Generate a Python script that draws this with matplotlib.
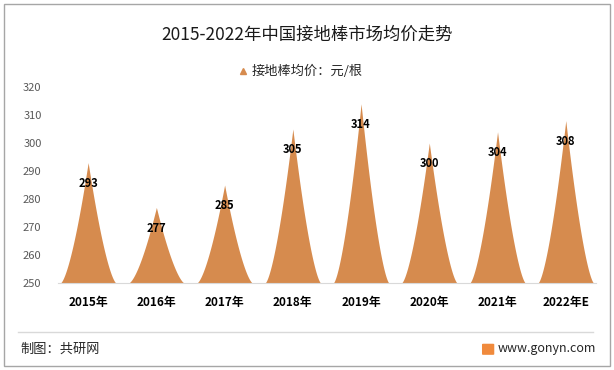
import numpy as np
import matplotlib.pyplot as plt
from matplotlib.patches import Rectangle, FancyBboxPatch
from matplotlib.lines import Line2D

plt.rcParams['font.family'] = ['Noto Sans CJK SC', 'DejaVu Sans']

years = ['2015年', '2016年', '2017年', '2018年', '2019年', '2020年', '2021年', '2022年E']
prices = [293, 277, 285, 305, 314, 300, 304, 308]
yticks = [250, 260, 270, 280, 290, 300, 310, 320]

color = '#D68B4E'
base = 250

fig = plt.figure(figsize=(6.14, 3.70), dpi=100)
ax = fig.add_axes([0.088, 0.235, 0.889, 0.53])

# pointed (concave) bars
u = np.linspace(-1, 1, 201)
half = 0.41
for i, v in enumerate(prices):
    xs = i + u * half
    ys = base + (v - base) * (1 - np.abs(u)) ** 1.5
    ax.fill_between(xs, base, ys, color=color, lw=0)
    ax.annotate(str(v), (i, v), xytext=(0, -15), textcoords='offset points',
                ha='center', va='center', fontsize=8, fontweight='bold', color='black')

ax.set_xlim(-0.5, len(years) - 0.5)
ax.set_ylim(250, 320)
ax.set_yticks(yticks)
ax.set_xticks(range(len(years)))
ax.set_xticklabels(years, fontsize=8.5, fontweight='bold')
ax.tick_params(axis='y', length=0, labelsize=8, labelcolor='#595959', pad=9)
ax.tick_params(axis='x', length=0, pad=9)
for s in ['top', 'right', 'left']:
    ax.spines[s].set_visible(False)
ax.spines['bottom'].set_color('#D9D9D9')
ax.spines['bottom'].set_bounds(-0.44, 7.44)

fig.text(0.5, 0.905, '2015-2022年中国接地棒市场均价走势', ha='center', va='center',
         fontsize=12.5, color='#1a1a1a')
# legend
fig.add_artist(Line2D([0.396], [0.807], marker='^', color=color, markersize=5,
                      linestyle='none', transform=fig.transFigure))
fig.text(0.41, 0.807, '接地棒均价：元/根', ha='left', va='center', fontsize=9.5, color='#262626')

# footer
fig.add_artist(Line2D([0.03, 0.965], [0.103, 0.103], color='#D9D9D9', lw=1,
                      transform=fig.transFigure))
fig.text(0.033, 0.055, '制图：共研网', ha='left', va='center', fontsize=9.5, color='#262626')
fig.add_artist(FancyBboxPatch((0.787, 0.043), 0.016, 0.026, boxstyle='round,pad=0.002',
                              transform=fig.transFigure, color='#F08A3C', lw=0))
fig.text(0.81, 0.057, 'www.gonyn.com', ha='left', va='center', fontsize=9, color='#262626')

# outer border
fig.add_artist(Rectangle((0.007, 0.011), 0.986, 0.978, transform=fig.transFigure,
                         fill=False, edgecolor='#A6A6A6', lw=1))

fig.savefig('out.png', dpi=100)
